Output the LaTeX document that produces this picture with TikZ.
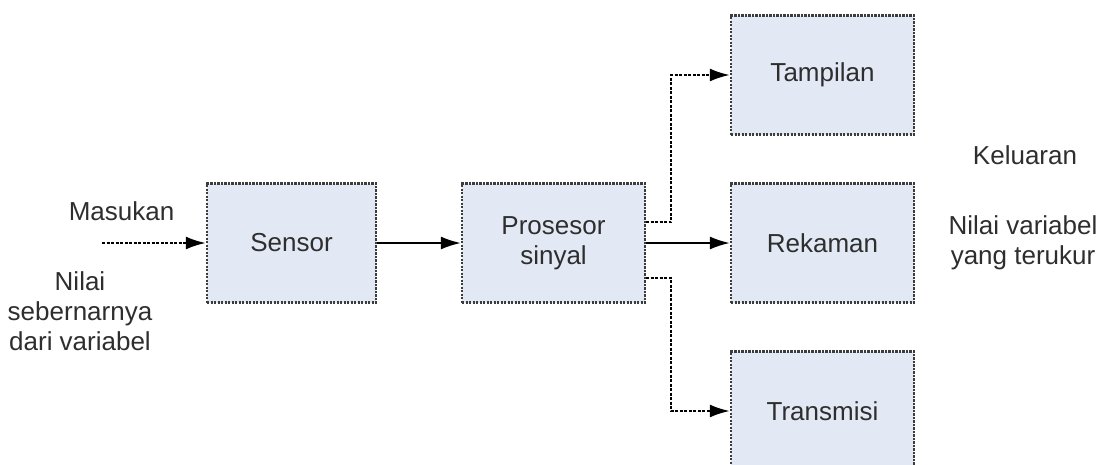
\documentclass[tikz,border=0pt]{standalone}
\usepackage{fontspec}
\setmainfont{Liberation Sans}
\usetikzlibrary{arrows.meta}
\definecolor{boxfill}{HTML}{E3E9F4}
\definecolor{boxline}{HTML}{3C3C3C}
\definecolor{txt}{HTML}{2E2E2E}

\begin{document}
\begin{tikzpicture}[x=1pt,y=1pt,->,>={Latex[length=20pt,width=13pt]},line width=1.8pt,node distance=262pt,
    every node/.style={font=\fontsize{26}{30}\selectfont,text=txt},
    box/.style={rectangle,draw=boxline,fill=boxfill,line width=2.4pt,dash pattern=on 2.2pt off 1.3pt,
        minimum width=183pt,minimum height=119pt,inner sep=0pt},
    dots/.style={dash pattern=on 3pt off 1.5pt,line width=2.2pt}]
                    \useasboundingbox (0,0) rectangle (1107,-464);

                    \node [box, minimum width=169pt](sensor) at (291.5,-243){Sensor};
                    \node [box, align=center](proc) [right of = sensor]{Prosesor\\sinyal};
                    \node [box](rek) [right of = proc, xshift=7pt]{Rekaman};
                    \node [box, node distance=168pt](tamp) [above of = rek]{Tampilan};
                    \node [box, node distance=168pt](trans) [below of = rek]{Transmisi};

                    \coordinate (in) at (102,-243);
                    \node (masukan) at (121.5,-211){Masukan};
                    \node [align=center](nilai) at (80,-311){Nilai\\sebernarnya\\dari variabel};
                    \node (keluaran) at (1025,-155){Keluaran};
                    \node [align=center](terukur) at (1023,-243){Nilai variabel\\yang terukur};

                    \draw [dots] (in) -- (sensor);
                    \draw (sensor) -- (proc);
                    \draw (proc) -- (rek);
                    \draw [dots] ([yshift=21pt]proc.east) -- ++(25,0) |- (tamp);
                    \draw [dots] ([yshift=-35pt]proc.east) -- ++(25,0) |- (trans);

                \end{tikzpicture}
\end{document}
